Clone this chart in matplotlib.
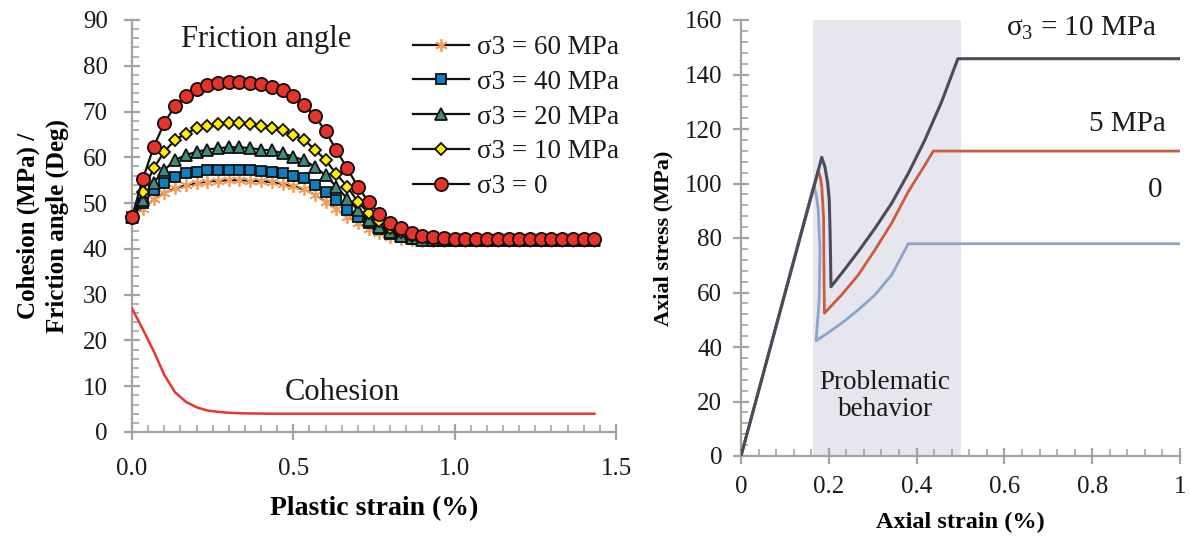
import matplotlib
matplotlib.use("Agg")
import matplotlib.pyplot as plt
from matplotlib.ticker import MultipleLocator, FormatStrFormatter

plt.rcParams['font.family'] = ['Liberation Serif', 'DejaVu Serif']
plt.rcParams['mathtext.fontset'] = 'custom'
plt.rcParams['mathtext.rm'] = 'Liberation Serif'

# ---------------- Left chart data ----------------
plastic_strain = [0.000, 0.033, 0.067, 0.100, 0.133, 0.167, 0.200, 0.233, 0.267, 0.300,
                  0.333, 0.367, 0.400, 0.433, 0.467, 0.500, 0.533, 0.567, 0.600, 0.633,
                  0.667, 0.700, 0.733, 0.767, 0.800, 0.833, 0.867, 0.900, 0.933, 0.967,
                  1.000, 1.033, 1.067, 1.100, 1.133, 1.167, 1.200, 1.233, 1.267, 1.300,
                  1.333, 1.367, 1.400, 1.433]

phi_s60 = [47.0, 48.8, 50.8, 52.2, 53.2, 53.9, 54.4, 54.7, 54.9, 55.0,
           55.0, 54.9, 54.8, 54.6, 54.2, 53.7, 53.0, 51.8, 50.3, 48.7,
           47.0, 45.6, 44.4, 43.4, 42.7, 42.2, 41.9, 41.8, 41.8, 41.8,
           41.8, 41.8, 41.8, 41.8, 41.8, 41.8, 41.8, 41.8, 41.8, 41.8,
           41.8, 41.8, 41.8, 41.8]
phi_s40 = [47.0, 50.0, 52.9, 54.3, 55.8, 56.5, 56.9, 57.2, 57.3, 57.3,
           57.3, 57.2, 57.0, 56.9, 56.5, 55.9, 55.4, 54.0, 52.5, 50.7,
           48.5, 47.0, 45.6, 44.3, 43.3, 42.6, 42.1, 41.9, 41.8, 41.8,
           41.8, 41.8, 41.8, 41.8, 41.8, 41.8, 41.8, 41.8, 41.8, 41.8,
           41.8, 41.8, 41.8, 41.8]
phi_s20 = [47.0, 50.7, 54.5, 57.2, 59.4, 60.5, 61.2, 61.7, 62.0, 62.2,
           62.2, 62.0, 61.7, 61.5, 60.9, 60.1, 59.4, 57.9, 56.1, 53.6,
           51.0, 48.5, 46.3, 44.8, 43.6, 42.8, 42.3, 42.0, 41.9, 41.9,
           41.9, 41.9, 41.9, 41.9, 41.9, 41.9, 41.9, 41.9, 41.9, 41.9,
           41.9, 41.9, 41.9, 41.9]
phi_s10 = [47.0, 52.5, 57.6, 61.2, 63.8, 65.2, 66.3, 66.9, 67.3, 67.4,
           67.4, 67.3, 66.9, 66.5, 65.9, 64.9, 63.8, 61.7, 59.4, 56.4,
           53.6, 50.3, 47.8, 46.0, 44.6, 43.6, 42.9, 42.5, 42.2, 42.0,
           42.0, 42.0, 42.0, 42.0, 42.0, 42.0, 42.0, 42.0, 42.0, 42.0,
           42.0, 42.0, 42.0, 42.0]
phi_s0 = [47.0, 55.2, 62.2, 67.5, 71.2, 73.4, 75.0, 75.9, 76.3, 76.5,
          76.5, 76.3, 76.0, 75.4, 74.6, 73.4, 71.5, 69.0, 65.7, 61.6,
          57.6, 53.6, 50.3, 47.6, 45.6, 44.5, 43.5, 42.9, 42.5, 42.3,
          42.2, 42.2, 42.2, 42.2, 42.2, 42.2, 42.2, 42.2, 42.2, 42.2,
          42.2, 42.2, 42.2, 42.2]

cohesion = [27.0, 22.5, 17.7, 12.5, 8.7, 6.6, 5.4, 4.7, 4.4, 4.2,
            4.1, 4.05, 4.02, 4.0, 4.0, 4.0, 4.0, 4.0, 4.0, 4.0,
            4.0, 4.0, 4.0, 4.0, 4.0, 4.0, 4.0, 4.0, 4.0, 4.0,
            4.0, 4.0, 4.0, 4.0, 4.0, 4.0, 4.0, 4.0, 4.0, 4.0,
            4.0, 4.0, 4.0, 4.0]

legend_labels = ['σ3 = 60 MPa', 'σ3 = 40 MPa', 'σ3 = 20 MPa', 'σ3 = 10 MPa', 'σ3 = 0']

# ---------------- Right chart data ----------------
strain_s10 = [0.0, 0.184, 0.191, 0.1975, 0.201, 0.203, 0.2043, 0.205,
              0.229, 0.267, 0.305, 0.343, 0.381, 0.419, 0.457, 0.494, 1.0]
stress_s10 = [0.0, 109.6, 106.2, 100.1, 94.0, 81.7, 69.5, 62.1,
              67.0, 75.0, 83.5, 92.7, 103.7, 116.0, 130.0, 145.8, 145.8]

strain_s5 = [0.0, 0.176, 0.181, 0.184, 0.188, 0.189, 0.190,
             0.229, 0.267, 0.305, 0.343, 0.381, 0.419, 0.438, 1.0]
stress_s5 = [0.0, 104.8, 102.0, 98.8, 87.8, 69.5, 52.4,
             59.1, 66.4, 75.6, 85.4, 97.0, 106.8, 111.9, 111.9]

strain_s0 = [0.0, 0.166, 0.171, 0.176, 0.180, 0.178, 0.171,
             0.191, 0.229, 0.267, 0.305, 0.343, 0.381, 1.0]
stress_s0 = [0.0, 99.5, 96.0, 90.3, 75.6, 57.2, 42.3,
             44.4, 48.7, 53.6, 59.1, 66.4, 77.9, 77.9]

problem_zone = [0.163, 0.5]
right_xticks = [0, 0.2, 0.4, 0.6, 0.8, 1.0]
right_xticklabels = ['0', '0.2', '0.4', '0.6', '0.8', '1']

# ---------------- Figure ----------------
fig = plt.figure(figsize=(11.9, 5.37), dpi=100)
axL = fig.add_axes([132/1190, 1-432/537, (616-132)/1190, (432-20)/537])
axR = fig.add_axes([741/1190, 1-456/537, (1180-741)/1190, (456-20)/537])

spine_col = '#a3a3a3'
for ax in (axL, axR):
    for s in ['top', 'right']:
        ax.spines[s].set_visible(False)
    for s in ['left', 'bottom']:
        ax.spines[s].set_color(spine_col)
        ax.spines[s].set_linewidth(1.6)
    ax.tick_params(which='major', direction='inout', length=11, width=1.6, color=spine_col,
                   labelsize=18, labelcolor='#1a1a1a')
    ax.tick_params(which='minor', direction='in', length=5, width=1.2, color=spine_col)

# Left chart
axL.set_xlim(0, 1.5)
axL.set_ylim(0, 90)
axL.xaxis.set_major_locator(MultipleLocator(0.5))
axL.xaxis.set_minor_locator(MultipleLocator(0.05))
axL.yaxis.set_major_locator(MultipleLocator(10))
axL.yaxis.set_minor_locator(MultipleLocator(2))
axL.xaxis.set_major_formatter(FormatStrFormatter('%.1f'))
axL.tick_params(axis='x', which='major', pad=13)
axL.tick_params(axis='y', which='major', pad=12)

series = [
    (phi_s60, dict(marker=(6, 2, 0), markersize=9, markeredgecolor='#f0a05a', markerfacecolor='#f0a05a', markeredgewidth=1.3)),
    (phi_s40, dict(marker='s', markersize=7.5, markerfacecolor='#0f7ec0', markeredgecolor='#111111', markeredgewidth=1.3)),
    (phi_s20, dict(marker='^', markersize=8.5, markerfacecolor='#3f8c7c', markeredgecolor='#111111', markeredgewidth=1.3)),
    (phi_s10, dict(marker='D', markersize=6.5, markerfacecolor='#ffec00', markeredgecolor='#111111', markeredgewidth=1.3)),
    (phi_s0, dict(marker='o', markersize=9.5, markerfacecolor='#e63228', markeredgecolor='#111111', markeredgewidth=1.3)),
]
for (vals, st), lab in zip(series, legend_labels):
    axL.plot(plastic_strain, vals, color='#111111', linewidth=1.6, label=lab, zorder=3, clip_on=False, **st)

axL.plot(plastic_strain, cohesion, color='#e8352d', linewidth=1.8, zorder=3)

axL.text(266/1190, 1-40/537, 'Friction angle', transform=fig.transFigure, fontsize=22,
         ha='center', va='center', color='#1a1a1a')
axL.text(342/1190, 1-393/537, 'Cohesion', transform=fig.transFigure, fontsize=22,
         ha='center', va='center', color='#1a1a1a')

leg = axL.legend(loc='upper left', bbox_to_anchor=(413/1190, 1-35/537), bbox_transform=fig.transFigure,
                 frameon=False, fontsize=19.5, handlelength=2.05, handletextpad=0.3,
                 labelspacing=0.36, borderaxespad=0, borderpad=0)
for t in leg.get_texts():
    t.set_color('#1a1a1a')

axL.set_xlabel('Plastic strain (%)', fontsize=20, fontweight='bold', labelpad=12)
axL.set_ylabel('Cohesion (MPa) /\nFriction angle (Deg)', fontsize=18, fontweight='bold',
               labelpad=10, linespacing=1.3)

# Right chart
axR.set_xlim(0, 1)
axR.set_ylim(0, 160)
axR.set_xticks(right_xticks)
axR.set_xticklabels(right_xticklabels)
axR.xaxis.set_minor_locator(MultipleLocator(0.04))
axR.yaxis.set_major_locator(MultipleLocator(20))
axR.yaxis.set_minor_locator(MultipleLocator(4))
axR.tick_params(axis='x', which='major', pad=9)
axR.tick_params(axis='y', which='major', pad=8)

axR.axvspan(problem_zone[0], problem_zone[1], color='#e5e6ee', zorder=0, lw=0)
axR.plot(strain_s0, stress_s0, color='#8ea3cc', linewidth=2.0, zorder=2)
axR.plot(strain_s5, stress_s5, color='#cf5a3c', linewidth=2.0, zorder=3)
axR.plot(strain_s10, stress_s10, color='#4b4b5a', linewidth=2.2, zorder=4)

axR.text(1082/1190, 1-28/537, 'σ$_3$ = 10 MPa', transform=fig.transFigure, fontsize=21,
         ha='center', va='center', color='#1a1a1a')
axR.text(1127/1190, 1-124/537, '5 MPa', transform=fig.transFigure, fontsize=21,
         ha='center', va='center', color='#1a1a1a')
axR.text(1155/1190, 1-190/537, '0', transform=fig.transFigure, fontsize=21,
         ha='center', va='center', color='#1a1a1a')
axR.text(885/1190, 1-396/537, 'Problematic\nbehavior', transform=fig.transFigure, fontsize=19.5,
         ha='center', va='center', color='#1a1a1a', linespacing=1.1)

axR.set_xlabel('Axial strain (%)', fontsize=17.5, fontweight='bold', labelpad=10)
axR.set_ylabel('Axial stress (MPa)', fontsize=16, fontweight='bold', labelpad=8)

fig.savefig('out.png', dpi=100)
